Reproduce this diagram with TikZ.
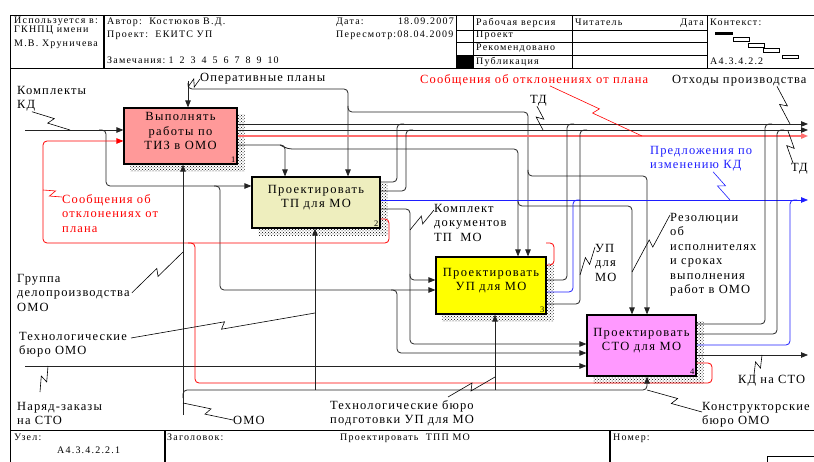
\documentclass[tikz,border=0pt]{standalone}
\usepackage{fontspec}
\setmainfont{Liberation Serif}
\newfontfamily\lblfont[LetterSpace=9]{Liberation Serif}
\newfontfamily\boxfont[LetterSpace=11]{Liberation Serif}
\newfontfamily\hdrfont[LetterSpace=12]{Liberation Serif}
\usetikzlibrary{arrows.meta,calc,positioning,patterns,backgrounds}

\definecolor{FnSalmon}{RGB}{255,153,153}
\definecolor{FnKhaki} {RGB}{238,238,190}
\definecolor{FnYellow}{RGB}{255,255,0}
\definecolor{FnOrchid}{RGB}{255,153,255}
\definecolor{MsgRed}  {RGB}{255,0,0}
\definecolor{MsgPink} {RGB}{255,110,110}
\definecolor{MsgBlue} {RGB}{30,30,255}
\definecolor{WireGray}{RGB}{35,35,35}

\begin{document}
\begin{tikzpicture}[x=1pt, y=-1pt,
  fn/.style   ={rectangle, draw=black, line width=1.2pt, inner sep=0pt},
  fntxt/.style={align=center, inner sep=0pt, font=\boxfont\fontsize{12.5}{14.5}\selectfont},
  lbl/.style  ={anchor=north west, align=left, inner sep=0pt,
                font=\lblfont\fontsize{12.5}{14.5}\selectfont},
  hdr/.style  ={anchor=base west, inner sep=0pt, font=\hdrfont\fontsize{10}{12}\selectfont},
  num/.style  ={anchor=south east, inner sep=2pt, font=\fontsize{8.5}{8.5}\selectfont},
  wire/.style ={line width=0.8pt, WireGray, rounded corners=4pt},
  arr/.style  ={wire, -{Triangle[length=7pt,width=5.5pt]}},
  squig/.style={line width=0.6pt, rounded corners=0pt, to path={
      -- ($(\tikztostart)!0.5!(\tikztotarget)!4pt!60:(\tikztotarget)$)
      -- ($(\tikztostart)!0.5!(\tikztotarget)!4pt!-120:(\tikztotarget)$)
      -- (\tikztotarget)}}
]
\useasboundingbox (0,0) rectangle (814,462);

% form frame
\draw[line width=0.8pt] (10,462) -- (10,15) -- (814,15);
\draw[line width=0.8pt] (10,68) -- (814,68);
\draw[line width=0.8pt] (10,430) -- (814,430);
\draw[line width=1.3pt] (104,15) -- (104,68);
\draw (456,15) -- (456,68) (473,15) -- (473,68) (572,15) -- (572,68) (707,15) -- (707,68);
\draw (456,30) -- (707,30) (456,42) -- (707,42) (456,55) -- (707,55);
\fill (456,55) rectangle (473,68);
\fill (715,32) rectangle (733,35);
\draw (733,37) rectangle (749,41) (748,43) rectangle (764,47)
      (763,48) rectangle (779,52) (782,55) rectangle (798,58);
\draw[line width=1.1pt] (165,430) -- (165,462) (610,430) -- (610,462);
\draw (767,456) rectangle (830,470);

\node[hdr] (usedIn) at (14,24) {Используется в:};
\node[hdr] (org1)   at (14,33) {ГКНПЦ имени};
\node[hdr] (org2)   at (14,47) {М.В. Хруничева};
\node[hdr] (author) at (107,25) {Автор:\ \ Костюков В.Д.};
\node[hdr] (proj)   at (107,38) {Проект:\ \ ЕКИТС УП};
\node[hdr] (notes)  at (107,64) {Замечания:\hspace{3pt}1\hspace{6pt}2\hspace{6pt}3\hspace{6pt}4\hspace{6pt}5\hspace{6pt}6\hspace{6pt}7\hspace{6pt}8\hspace{6pt}9\hspace{6pt}10};
\node[hdr] (date)   at (336,25) {Дата:};
\node[hdr, anchor=base east] (dateV) at (454,25) {18.09.2007};
\node[hdr] (rev)    at (336,38) {Пересмотр:08.04.2009};
\node[hdr] (st1) at (476,26) {Рабочая версия};
\node[hdr] (st2) at (476,38) {Проект};
\node[hdr] (st3) at (476,51) {Рекомендовано};
\node[hdr] (st4) at (476,65) {Публикация};
\node[hdr] (reader) at (575,26) {Читатель};
\node[hdr, anchor=base east] (rdate) at (704,26) {Дата};
\node[hdr] (ctx)  at (710,26) {Контекст:};
\node[hdr] (ctxN) at (710,65) {А4.3.4.2.2};
\node[hdr] (node)  at (14,440) {Узел:};
\node[hdr] (nodeN) at (57,453) {А4.3.4.2.2.1};
\node[hdr] (title) at (167,440) {Заголовок:};
\node[hdr] (titleT) at (340,440) {Проектировать\ \ ТПП МО};
\node[hdr] (numb)  at (613,440) {Номер:};

% function blocks
\node[fn, fill=FnSalmon, minimum width=113pt, minimum height=56pt] (tiz) at (180.5,136) {};
\node[fn, fill=FnKhaki,  minimum width=128pt, minimum height=51pt] (tp)  at (316,202.5) {};
\node[fn, fill=FnYellow, minimum width=110pt, minimum height=57pt] (up)  at (491,285.5) {};
\node[fn, fill=FnOrchid, minimum width=109pt, minimum height=61pt] (sto) at (641.5,345.5) {};
\node[fntxt] at ([yshift=5pt]tiz.center) {Выполнять\\работы по\\ТИЗ в ОМО};
\node[fntxt] at ([yshift=5pt]tp.center)  {Проектировать\\ТП для МО};
\node[fntxt] at ([yshift=5pt]up.center)  {Проектировать\\УП для МО};
\node[fntxt] at ([yshift=5pt]sto.center) {Проектировать\\СТО для МО};
\node[num] at (tiz.south east) {1};
\node[num] at (tp.south east)  {2};
\node[num] at (up.south east)  {3};
\node[num] at (sto.south east) {4};

\begin{scope}[on background layer]
  \foreach \b in {tiz,tp,up,sto}
    \fill[pattern=crosshatch dots, pattern color=black]
      ([shift={(7pt,-7pt)}]\b.south west) rectangle ([shift={(7pt,-7pt)}]\b.north east);
\end{scope}

% free ends
\coordinate (kdIn)  at (25,130);
\coordinate (opIn)  at (188,81);
\coordinate (nzIn)  at (25,366);
\coordinate (omoIn) at (183,415);
\coordinate (o1) at (808,124);
\coordinate (o2) at (808,130);
\coordinate (o3) at (808,136);
\coordinate (o4) at (808,200);
\coordinate (o5) at (808,355);

% inputs
\draw[arr] (kdIn) -- (tiz.west |- kdIn);
\draw[arr] (99,130) -- (106,130) -- (106,186) -- (tp.west |- 0,186);
\draw[arr] (214,186) -- (220,186) -- (220,290) -- (up.west |- 0,290);
\draw[arr] (391,290) -- (397,290) -- (397,353) -- (sto.west |- 0,353);
\draw[arr] (nzIn) -- (sto.west |- nzIn);

% controls
\draw[arr] (opIn) -- (tiz.north -| opIn);
\draw[arr] (188,83) -- (188,89) -- (348,89) -- (tp.north -| 348,0);
\draw[arr] (348,106) -- (348,112) -- (528,112) -- (up.north -| 528,0);
\draw[arr] (528,170) -- (528,176) -- (647,176) -- (sto.north -| 647,0);
\draw[arr] (tiz.east |- 0,145) -- (285,145) -- (tp.north -| 285,0);
\draw[arr] (280,145) -- (288,149) -- (518,149) -- (up.north -| 518,0);
\draw[arr] (518,200) -- (518,206) -- (632,206) -- (sto.north -| 632,0);

% outputs
\draw[arr] (tiz.east |- o1) -- (o1);
\draw[arr] (tiz.east |- o2) -- (o2);
\draw[arr, MsgPink, line width=1.3pt] (tiz.east |- o3) -- (o3);
\draw[arr, MsgBlue] (tp.east |- o4) -- (o4);
\draw[arr] (sto.east |- o5) -- (o5);

\draw[wire] (tp.east |- 0,182) -- (397,182) -- (397,124) -- (404,124);
\draw[wire] (tp.east |- 0,191) -- (406,191) -- (406,130) -- (413,130);
\draw[arr] (tp.east |- 0,209) -- (410,209) -- (410,280) -- (up.west |- 0,280);
\draw[arr] (410,274) -- (410,344) -- (sto.west |- 0,344);
\draw[arr, MsgRed] (tp.east |- 0,219) -- (389,219) -- (389,243) -- (43,243)
  -- (43,141) -- (tiz.west |- 0,141);

\draw[wire] (up.east |- 0,280) -- (567,280) -- (567,124) -- (574,124);
\draw[wire, MsgBlue] (up.east |- 0,292) -- (573,292) -- (573,200) -- (580,200);
\draw[wire] (up.east |- 0,304) -- (580,304) -- (580,130) -- (587,130);
\draw[wire, MsgRed] (up.east |- 0,265) -- (554,265) -- (554,243) -- (546,243);

\draw[wire] (sto.east |- 0,324) -- (765,324) -- (765,124) -- (772,124);
\draw[wire] (sto.east |- 0,334) -- (777,334) -- (777,130) -- (784,130);
\draw[wire, MsgBlue] (sto.east |- 0,345) -- (790,345) -- (790,200) -- (797,200);
\draw[wire, MsgRed] (sto.east |- 0,363) -- (712,363) -- (712,383) -- (195,383)
  -- (195,243) -- (188,243);

% mechanisms
\draw[arr] (omoIn) -- (tiz.south -| omoIn);
\draw[arr] (183,398) -- (183,390) -- (647,390) -- (sto.south -| 647,0);
\draw[arr] (315,390) -- (tp.south -| 315,0);
\draw[arr] (495,390) -- (up.south -| 495,0);

% arrow labels
\coordinate (kdT)   at (70,130);
\coordinate (opT)   at (188,87);
\coordinate (msgT)  at (642,136);
\coordinate (wstT)  at (790,124);
\coordinate (tdT)   at (543,130);
\coordinate (prT)   at (730,200);
\coordinate (td2T)  at (788,131);
\coordinate (devT)  at (43,190);
\coordinate (docT)  at (410,230);
\coordinate (resT)  at (632,272);
\coordinate (upT)   at (580,275);
\coordinate (grpT)  at (183,252);
\coordinate (tbT)   at (315,313);
\coordinate (ksT)   at (762,355);
\coordinate (nzT)   at (48,366);
\coordinate (omoT)  at (183,403);
\coordinate (tbuT)  at (495,377);
\coordinate (kbT)   at (647,390);

\node[lbl] (kdL) at (17,86) {Комплекты\\КД};
\draw[squig] ([xshift=15pt]kdL.south west) to (kdT);
\node[lbl, anchor=west] (opL) at (200,79) {Оперативные планы};
\draw[squig] (opL.west) to (opT);
\node[lbl, MsgRed] (msgL) at (420,74) {Сообщения об отклонениях от плана};
\draw[squig, MsgRed] ([xshift=130pt]msgL.south west) to (msgT);
\node[lbl] (wstL) at (672,75) {Отходы производства};
\draw[squig] ([xshift=105pt]wstL.south west) to (wstT);
\node[lbl] (tdL) at (530,95) {ТД};
\draw[squig] ([xshift=7pt]tdL.south west) to (tdT);
\node[lbl, MsgBlue] (prL) at (650,146) {Предложения по\\изменению КД};
\draw[squig, MsgBlue] ([xshift=63pt]prL.south west) to (prT);
\node[lbl] (td2L) at (791,163) {ТД};
\draw[squig] ([xshift=2pt]td2L.north west) to (td2T);
\node[lbl, MsgRed] (devL) at (62,194) {Сообщения об\\отклонениях от\\плана};
\draw[squig, MsgRed] ([yshift=-3pt]devL.north west) to (devT);
\node[lbl] (docL) at (434,204) {Комплект\\документов\\ТП\ \ МО};
\draw[squig] ([yshift=-6pt]docL.north west) to (docT);
\node[lbl] (resL) at (670,213) {Резолюции\\об\\исполнителях\\и сроках\\выполнения\\работ в ОМО};
\draw[squig] ([yshift=-2pt]resL.north west) to (resT);
\node[lbl] (upL) at (595,244) {УП\\для\\МО};
\draw[squig] ([yshift=-3pt]upL.north west) to (upT);
\node[lbl] (grpL) at (17,274) {Группа\\делопроизводства\\ОМО};
\draw[squig] ([xshift=2pt]grpL.east) to (grpT);
\node[lbl] (tbL) at (19,332) {Технологические\\бюро ОМО};
\draw[squig] ([shift={(4pt,-6pt)}]tbL.north east) to (tbT);
\node[lbl] (ksL) at (738,375) {КД на СТО};
\draw[squig] ([xshift=16pt]ksL.north west) to (ksT);
\node[lbl] (nzL) at (17,402) {Наряд-заказы\\на СТО};
\draw[squig] ([shift={(23pt,10pt)}]nzL.north west) to (nzT);
\node[lbl, anchor=west] (omoL) at (233,420) {ОМО};
\draw[squig] (omoL.west) to (omoT);
\node[lbl] (tbuL) at (330,400) {Технологические бюро\\подготовки УП для МО};
\draw[squig] ([shift={(118pt,3pt)}]tbuL.north west) to (tbuT);
\node[lbl] (kbL) at (702,402) {Конструкторские\\бюро ОМО};
\draw[squig] ([yshift=-10pt]kbL.north west) to (kbT);
\end{tikzpicture}
\end{document}
